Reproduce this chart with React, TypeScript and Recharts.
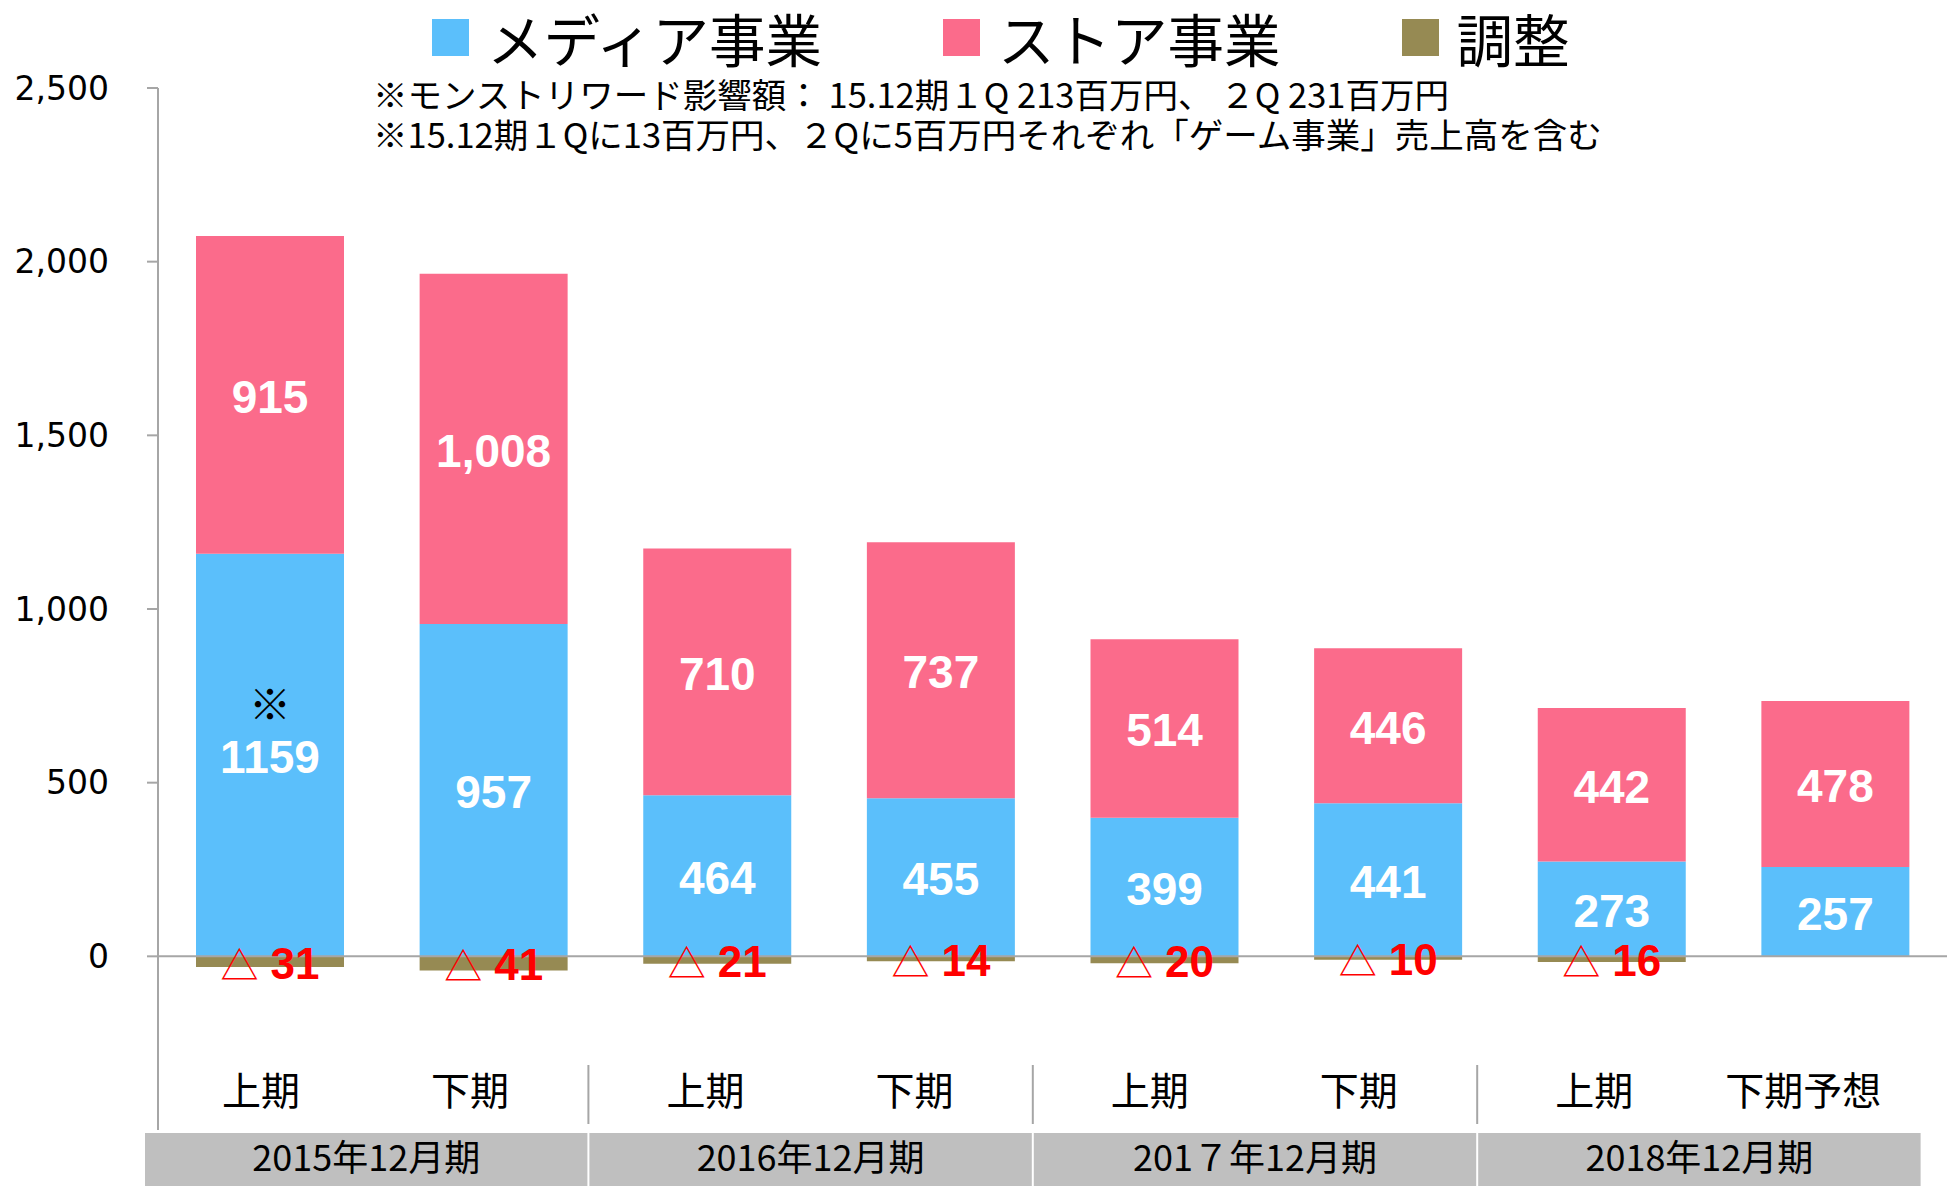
import React from 'react';
import { BarChart, Bar, XAxis, YAxis, ReferenceLine, LabelList, Legend } from 'recharts';

// ---- data ----
const periods = ['上期', '下期', '上期', '下期', '上期', '下期', '上期', '下期予想'];
const fiscalYears = ['2015年12月期', '2016年12月期', '201７年12月期', '2018年12月期'];
const mediaSales = [1159, 957, 464, 455, 399, 441, 273, 257];
const storeSales = [915, 1008, 710, 737, 514, 446, 442, 478];
const adjustments = [-31, -41, -21, -14, -20, -10, -16, 0];
const mediaNotes = ['※', '', '', '', '', '', '', ''];
const yTicks = [0, 500, 1000, 1500, 2000, 2500];
const seriesNames = ['メディア事業', 'ストア事業', '調整'];
const noteLines = [
  '※モンストリワード影響額： 15.12期１Q 213百万円、 ２Q 231百万円',
  '※15.12期１Qに13百万円、２Qに5百万円それぞれ「ゲーム事業」売上高を含む',
];

// ---- style ----
const W = 1948;
const H = 1186;
const COLORS = ['#5BBFFB', '#FB6B8B', '#968A53'];
const AXIS_GRAY = '#A6A6A6';
const CJK = '"Noto Sans CJK JP", "Noto Sans", sans-serif';
const NUM = '"Liberation Sans", Arial, sans-serif';
const TABLE_LEFT = 144;
const GROUP_W = 444.4;
const LABEL_OFFSETS = [117, 326];

const data = periods.map((p, i) => ({
  period: p,
  media: mediaSales[i],
  store: storeSales[i],
  adjust: adjustments[i],
}));

const fmtComma = (v: number) => v.toLocaleString('en-US');

function CategoryTick(props: any) {
  const { y, payload } = props;
  const i = payload.index;
  const g = Math.floor(i / 2);
  const left = TABLE_LEFT + g * GROUP_W;
  const colCenter = left + LABEL_OFFSETS[i % 2];
  const items: any[] = [];
  items.push(
    <text key="p" x={colCenter} y={y - 39 + 14} textAnchor="middle" fontFamily={CJK} fontSize={39} fill="#000">
      {periods[i]}
    </text>
  );
  if (i % 2 === 0) {
    if (g > 0) {
      items.push(<line key="s" x1={left} x2={left} y1={y - 65} y2={y - 6} stroke={AXIS_GRAY} strokeWidth={2} />);
    }
    items.push(<rect key="b" x={left + 1} y={y + 3} width={GROUP_W - 2} height={60} fill="#BFBFBF" />);
    items.push(
      <text key="g" x={left + GROUP_W / 2} y={y + 28 + 13} textAnchor="middle" fontFamily={CJK} fontSize={36} fill="#000">
        {fiscalYears[g]}
      </text>
    );
  }
  return <g>{items}</g>;
}

function MediaLabel(props: any) {
  const { x, y, width, height, value, index } = props;
  const cx = x + width / 2;
  const cy = y + height / 2;
  const note = mediaNotes[index];
  return (
    <g>
      {note ? (
        <text x={cx} y={cy - 49 + 14} textAnchor="middle" fontFamily={CJK} fontSize={42} fill="#000">
          {note}
        </text>
      ) : null}
      <text x={cx} y={cy + 18} textAnchor="middle" fontFamily={NUM} fontWeight={700} fontSize={46} fill="#fff">
        {String(value)}
      </text>
    </g>
  );
}

function StoreLabel(props: any) {
  const { x, y, width, height, value } = props;
  const cx = x + width / 2;
  const cy = y + height / 2;
  return (
    <text x={cx} y={cy + 18} textAnchor="middle" fontFamily={NUM} fontWeight={700} fontSize={46} fill="#fff">
      {fmtComma(value)}
    </text>
  );
}

function AdjustLabel(props: any) {
  const { x, y, width, height, value } = props;
  if (!value) return null;
  const cx = x + width / 2;
  const cy = y + height / 2;
  return (
    <text x={cx} y={cy + 17} textAnchor="middle" fill="#FF0000">
      <tspan fontFamily={CJK} fontSize={38} fontWeight={400}>△</tspan>
      <tspan fontFamily={NUM} fontSize={44} fontWeight={700} dx={12}>{Math.abs(value)}</tspan>
    </text>
  );
}

function LegendBlock() {
  return (
    <div style={{ position: 'relative', width: W, height: 88 }}>
      <div style={{ position: 'absolute', left: 432, top: 4, height: 66, display: 'flex', alignItems: 'center' }}>
        {seriesNames.map((n, i) => (
          <div key={n} style={{ display: 'flex', alignItems: 'center', marginRight: 121 }}>
            <div style={{ width: 37, height: 37, background: COLORS[i], marginRight: 18 }} />
            <span style={{ fontFamily: CJK, fontSize: 56.5, lineHeight: '58px', color: '#000', whiteSpace: 'nowrap' }}>{n}</span>
          </div>
        ))}
      </div>
      {noteLines.map((t, i) => (
        <div
          key={i}
          style={{
            position: 'absolute',
            left: 373,
            top: 74 + i * 40,
            height: 38,
            fontFamily: CJK,
            fontSize: 34.5,
            lineHeight: '38px',
            color: '#000',
            whiteSpace: 'nowrap',
          }}
        >
          {t}
        </div>
      ))}
    </div>
  );
}

export default function App() {
  return (
    <div style={{ position: 'absolute', left: 0, top: 0, width: W, height: H, background: '#fff' }}>
      <BarChart
        width={W}
        height={H}
        data={data}
        stackOffset="sign"
        margin={{ top: 0, right: 1, bottom: 0, left: 0 }}
        barSize={148}
      >
        <Legend
          verticalAlign="top"
          align="left"
          wrapperStyle={{ top: 0, left: 0, width: W, height: 88 }}
          content={() => <LegendBlock />}
        />
        <XAxis
          dataKey="period"
          axisLine={false}
          tickLine={false}
          tickSize={0}
          tickMargin={0}
          interval={0}
          height={56}
          tick={<CategoryTick />}
        />
        <YAxis
          type="number"
          domain={[-500, 2500]}
          ticks={yTicks}
          width={158}
          axisLine={{ stroke: AXIS_GRAY, strokeWidth: 2 }}
          tickLine={{ stroke: AXIS_GRAY, strokeWidth: 2 }}
          tickSize={11}
          tickMargin={38}
          tickFormatter={fmtComma}
          tick={{ fill: '#000', fontSize: 33, fontFamily: '"DejaVu Sans", Verdana, sans-serif' }}
          allowDataOverflow
        />
        <Bar dataKey="media" name={seriesNames[0]} stackId="s" fill={COLORS[0]} isAnimationActive={false}>
          <LabelList dataKey="media" content={<MediaLabel />} />
        </Bar>
        <Bar dataKey="store" name={seriesNames[1]} stackId="s" fill={COLORS[1]} isAnimationActive={false}>
          <LabelList dataKey="store" content={<StoreLabel />} />
        </Bar>
        <Bar dataKey="adjust" name={seriesNames[2]} stackId="s" fill={COLORS[2]} isAnimationActive={false}>
          <LabelList dataKey="adjust" content={<AdjustLabel />} />
        </Bar>
        <ReferenceLine y={0} stroke={AXIS_GRAY} strokeWidth={2} />
      </BarChart>
    </div>
  );
}
